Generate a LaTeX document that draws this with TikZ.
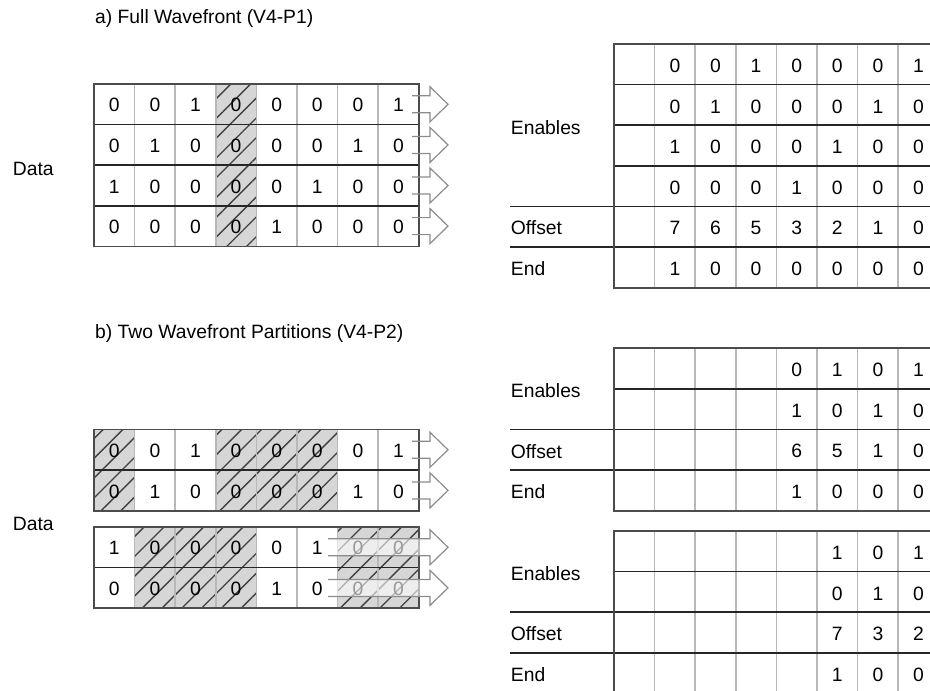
\documentclass[tikz,border=0pt]{standalone}
\usepackage{fontspec}
\setmainfont{Liberation Sans}
\usetikzlibrary{patterns.meta}

\begin{document}
\begin{tikzpicture}[x=1pt, y=-1pt,
	every node/.style={font=\fontsize{19.3}{23}\selectfont, inner sep=0pt},
	hatchcell/.style={preaction={fill=black!16}, pattern={Lines[angle=45, distance=14pt, line width=1.35pt]}, pattern color=black!75},
	colline/.style={draw=black!28, line width=1.6pt},
	rowline/.style={draw=black!85, line width=1.5pt},
	frame/.style={draw=black!70, line width=1.8pt},
	blockarrow/.style={draw=black!45, line width=1.2pt, line join=miter},
	fadearrow/.style={fill=white, fill opacity=0.6},
	rowlabel/.style={anchor=west},
	title/.style={anchor=base west}]
	\useasboundingbox (0,0) rectangle (930,691);
	\clip (0,0) rectangle (930,691);

	\node[title] (titleA) at (95,23) {a) Full Wavefront (V4-P1)};
	\node[title] (titleB) at (95,338.3) {b) Two Wavefront Partitions (V4-P2)};
	\node[rowlabel] (dataA) at (12.7,169) {Data};
	\node[rowlabel] (dataB) at (12.7,524) {Data};

	% a) data rows
	\path[hatchcell] ({94+3*40.6},84) rectangle ++(40.6,162.4);
	\foreach \c in {1,...,7} \draw[colline] ({94+\c*40.6},84) -- ++(0,162.4);
	\foreach \r in {1,2,3} \draw[rowline] (94,{84+\r*40.6}) -- ++(324.8,0);
	\draw[frame] (94,84) rectangle ++(324.8,162.4);
	\foreach \row [count=\r from 0] in {{0,0,1,0,0,0,0,1},{0,1,0,0,0,0,1,0},{1,0,0,0,0,1,0,0},{0,0,0,0,1,0,0,0}} {
		\foreach \v [count=\c from 0] in \row
			\node (da-\r-\c) at ({94+(\c+.5)*40.6},{85+(\r+.5)*40.6}) {\v};
		\draw[blockarrow] (412,{84+(\r+.5)*40.6-8.5}) -- ++(18,0) -- ++(0,-9) -- ++(18,17.5) -- ++(-18,17.5) -- ++(0,-9) -- ++(-18,0);
	}

	% b) data rows, two partitions
	\foreach \c in {0,3,4,5} \path[hatchcell] ({94+\c*40.6},429.5) rectangle ++(40.6,81.2);
	\foreach \c in {1,2,3,6,7} \path[hatchcell] ({94+\c*40.6},527) rectangle ++(40.6,81.2);
	\foreach \top in {429.5,527} {
		\foreach \c in {1,...,7} \draw[colline] ({94+\c*40.6},\top) -- ++(0,81.2);
		\draw[rowline] (94,{\top+40.6}) -- ++(324.8,0);
		\draw[frame] (94,\top) rectangle ++(324.8,81.2);
	}
	\foreach \row [count=\r from 0] in {{0,0,1,0,0,0,0,1},{0,1,0,0,0,0,1,0}} {
		\foreach \v [count=\c from 0] in \row
			\node (db-\r-\c) at ({94+(\c+.5)*40.6},{430.5+(\r+.5)*40.6}) {\v};
		\draw[blockarrow] (412,{429.5+(\r+.5)*40.6-8.5}) -- ++(18,0) -- ++(0,-9) -- ++(18,17.5) -- ++(-18,17.5) -- ++(0,-9) -- ++(-18,0);
	}
	\foreach \row [count=\r from 0] in {{1,0,0,0,0,1,0,0},{0,0,0,0,1,0,0,0}} {
		\foreach \v [count=\c from 0] in \row
			\node (dc-\r-\c) at ({94+(\c+.5)*40.6},{528+(\r+.5)*40.6}) {\v};
		\draw[blockarrow, fadearrow] (328,{527+(\r+.5)*40.6-8.5}) -- ++(102,0) -- ++(0,-9) -- ++(18,17.5) -- ++(-18,17.5) -- ++(0,-9) -- ++(-102,0);
	}

	% a) table
	\foreach \c in {1,...,7} \draw[colline] ({614+\c*40.6},44) -- ++(0,243.6);
	\foreach \r in {1,2,3} \draw[rowline] (614,{44+\r*40.6}) -- (940,{44+\r*40.6});
	\foreach \r in {4,5} \draw[rowline] (510,{44+\r*40.6}) -- (940,{44+\r*40.6});
	\draw[frame] (940,44) -- (614,44) -- (614,287.6) -- (940,287.6);
	\node[rowlabel] (enA) at (510.7,127.5) {Enables};
	\node[rowlabel] (offA) at (510.7,228) {Offset};
	\node[rowlabel] (endA) at (510.7,269) {End};
	\foreach \row [count=\r from 0] in {{0,0,1,0,0,0,1},{0,1,0,0,0,1,0},{1,0,0,0,1,0,0},{0,0,0,1,0,0,0},{7,6,5,3,2,1,0},{1,0,0,0,0,0,0}}
		\foreach \v [count=\c from 1] in \row
			\node (ta-\r-\c) at ({614+(\c+.5)*40.6},{45.5+(\r+.5)*40.6}) {\v};

	% b) tables
	\foreach \top in {348.3,531} {
		\foreach \c in {1,...,7} \draw[colline] ({614+\c*40.6},\top) -- ++(0,162.4);
		\draw[rowline] (614,{\top+40.6}) -- (940,{\top+40.6});
		\foreach \r in {2,3} \draw[rowline] (510,{\top+\r*40.6}) -- (940,{\top+\r*40.6});
		\draw[frame] (940,\top) -- (614,\top) -- (614,{\top+162.4}) -- (940,{\top+162.4});
	}
	\node[rowlabel] (enB) at (510.7,391) {Enables};
	\node[rowlabel] (offB) at (510.7,451.5) {Offset};
	\node[rowlabel] (endB) at (510.7,492) {End};
	\node[rowlabel] (enC) at (510.7,573.3) {Enables};
	\node[rowlabel] (offC) at (510.7,634) {Offset};
	\node[rowlabel] (endC) at (510.7,674.5) {End};
	\foreach \row [count=\r from 0] in {{0,1,0,1},{1,0,1,0},{6,5,1,0},{1,0,0,0}}
		\foreach \v [count=\c from 4] in \row
			\node (tb-\r-\c) at ({614+(\c+.5)*40.6},{349.8+(\r+.5)*40.6}) {\v};
	\foreach \row [count=\r from 0] in {{1,0,1},{0,1,0},{7,3,2},{1,0,0}}
		\foreach \v [count=\c from 5] in \row
			\node (tc-\r-\c) at ({614+(\c+.5)*40.6},{532.5+(\r+.5)*40.6}) {\v};
\end{tikzpicture}
\end{document}
